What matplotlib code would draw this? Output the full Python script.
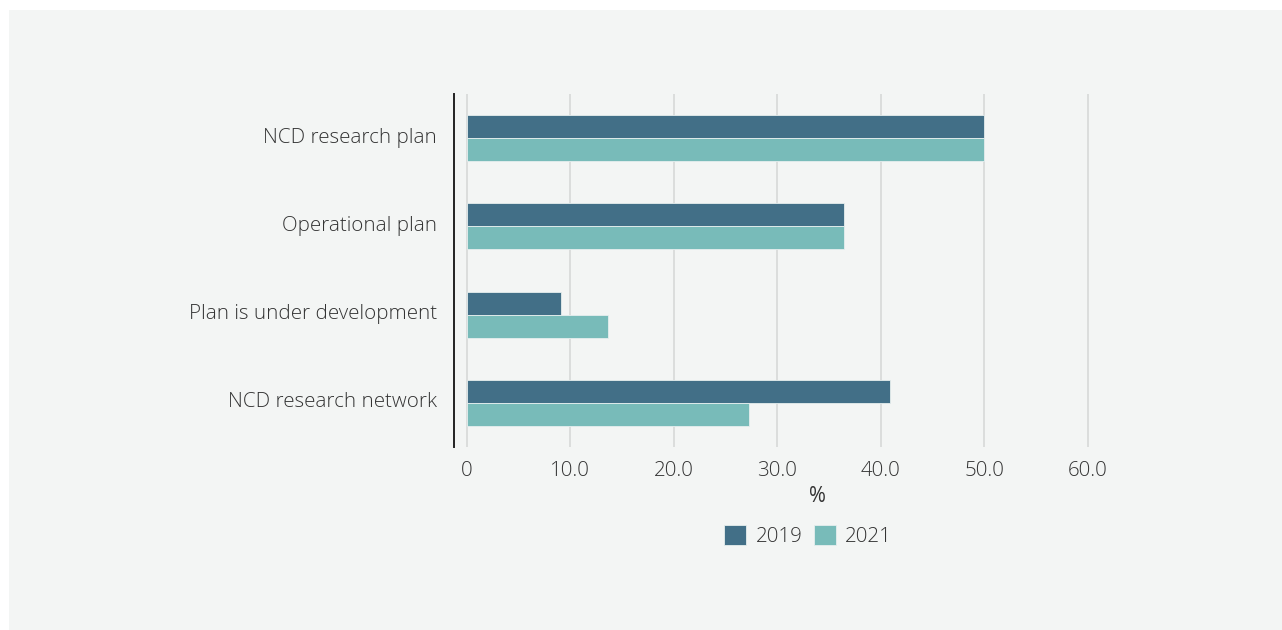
import numpy as np
import matplotlib.pyplot as plt
from matplotlib.patches import Rectangle
from matplotlib.transforms import ScaledTranslation

categories = ["NCD research plan", "Operational plan",
              "Plan is under development", "NCD research network"]
years = ["2019", "2021"]
vals_2019 = [50.0, 36.4, 9.1, 40.9]
vals_2021 = [50.0, 36.4, 13.6, 27.3]
xticks = [0, 10, 20, 30, 40, 50, 60]
xtick_labels = ["0", "10.0", "20.0", "30.0", "40.0", "50.0", "60.0"]

c2019 = "#426f87"
c2021 = "#78bbb9"
bg = "#f3f5f4"
txt = "#333333"
fs = 14.8

plt.rcParams['font.family'] = ['Open Sans', 'DejaVu Sans']

W, H = 1282, 630
fig = plt.figure(figsize=(W / 100, H / 100), dpi=100, facecolor="white")
# grey panel, white strip along top and left
fig.patches.append(Rectangle((9 / W, 0), 1, 1 - 10 / H, transform=fig.transFigure,
                             facecolor=bg, edgecolor="none", zorder=-10))

ax = fig.add_axes([454 / W, 1 - 447 / H, (1093 - 454) / W, (447 - 94) / H])
ax.patch.set_alpha(0)

y = np.arange(len(categories))
h = 0.262
ax.barh(y - h / 2, vals_2019, height=h, color=c2019, edgecolor="#e6eeee",
        linewidth=0.6, label=years[0], zorder=3)
ax.barh(y + h / 2, vals_2021, height=h, color=c2021, edgecolor="#e6eeee",
        linewidth=0.6, label=years[1], zorder=3)

ax.set_ylim(3.5, -0.5)
ax.set_xlim(-1.25, 60.5)
ax.set_yticks(y)
ax.set_yticklabels(categories, fontsize=fs, color=txt, fontweight="light")
ax.set_xticks(xticks)
ax.set_xticklabels(xtick_labels, fontsize=fs, color=txt, fontweight="light")
ax.tick_params(axis="both", length=0)
ax.tick_params(axis="y", pad=12.5)
ax.tick_params(axis="x", pad=10)

# nudge category labels up a little
up = ScaledTranslation(0, 3 / 100, fig.dpi_scale_trans)
for lab in ax.get_yticklabels():
    lab.set_transform(lab.get_transform() + up)

ax.grid(axis="x", color="#d9dbda", linewidth=1.3, zorder=0)
for s in ["top", "right", "bottom"]:
    ax.spines[s].set_visible(False)
ax.spines["left"].set_color("#222222")
ax.spines["left"].set_linewidth(1.4)

fig.text(817 / W, 1 - 497 / H, "%", fontsize=fs, color=txt,
         ha="center", va="center")

fig.legend(loc="center", bbox_to_anchor=(808 / W, 1 - 536 / H), ncol=2,
           frameon=False, handlelength=1.08, handleheight=1.08,
           handletextpad=0.45, columnspacing=0.55, labelcolor=txt,
           prop={"weight": "light", "size": fs})

fig.savefig("out.png", dpi=100, facecolor="white")
